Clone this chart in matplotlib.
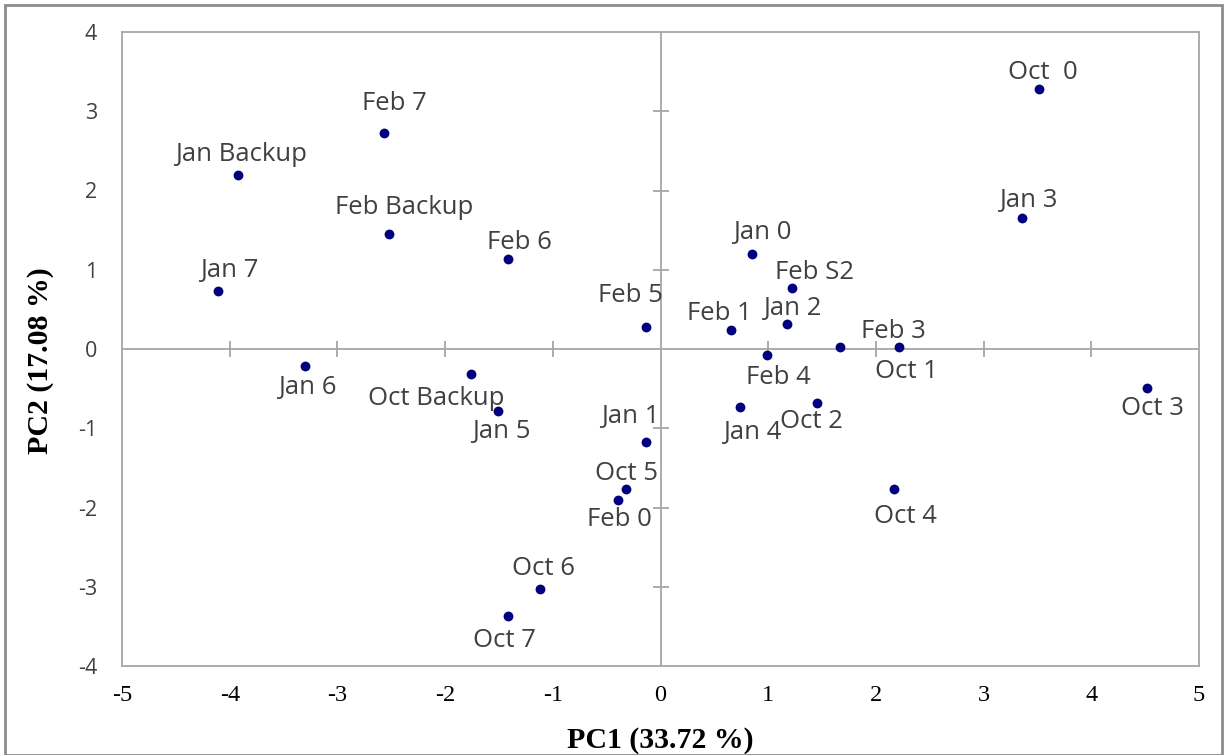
import numpy as np
import matplotlib
matplotlib.use("Agg")
import matplotlib.pyplot as plt
from matplotlib.patches import Rectangle

# PCA scores
names = ['Oct  0', 'Jan 3', 'Feb 7', 'Jan Backup', 'Feb Backup', 'Feb 6', 'Jan 7',
         'Jan 0', 'Feb S2', 'Feb 5', 'Feb 1', 'Jan 2', 'Feb 3', 'Oct 1', 'Feb 4',
         'Jan 4', 'Oct 2', 'Jan 1', 'Oct 5', 'Feb 0', 'Oct 4', 'Jan 6',
         'Oct Backup', 'Jan 5', 'Oct 3', 'Oct 6', 'Oct 7']
pc1 = [3.51, 3.36, -2.57, -3.92, -2.52, -1.42, -4.11,
       0.85, 1.22, -0.13, 0.65, 1.17, 1.67, 2.21, 0.99,
       0.74, 1.45, -0.13, -0.32, -0.39, 2.17, -3.30,
       -1.76, -1.51, 4.52, -1.12, -1.42]
pc2 = [3.28, 1.65, 2.72, 2.19, 1.45, 1.13, 0.73,
       1.20, 0.77, 0.28, 0.24, 0.32, 0.03, 0.03, -0.08,
       -0.73, -0.68, -1.17, -1.77, -1.90, -1.77, -0.22,
       -0.31, -0.78, -0.49, -3.03, -3.37]

xticks = [-5, -4, -3, -2, -1, 0, 1, 2, 3, 4, 5]
yticks = [-4, -3, -2, -1, 0, 1, 2, 3, 4]

# label offsets from each point, in pixels (x right, y up)
label_offsets = {
    'Oct  0': (4, 17), 'Jan 3': (6, 18), 'Feb 7': (11, 30), 'Jan Backup': (3, 21),
    'Feb Backup': (15, 27), 'Feb 6': (12, 17), 'Jan 7': (11, 21), 'Jan 0': (10, 21),
    'Feb S2': (23, 15), 'Feb 5': (-16, 31), 'Feb 1': (-11, 16), 'Jan 2': (6, 15),
    'Feb 3': (53, 15), 'Oct 1': (8, -25), 'Feb 4': (11, -22), 'Jan 4': (12, -26),
    'Oct 2': (-5, -19), 'Jan 1': (-16, 25), 'Oct 5': (0, 16), 'Feb 0': (1, -20),
    'Oct 4': (11, -27), 'Jan 6': (2, -21), 'Oct Backup': (-35, -25), 'Jan 5': (3, -21),
    'Oct 3': (5, -21), 'Oct 6': (4, 21), 'Oct 7': (-3, -24),
}

grey = '#a6a6a6'
text_col = '#404040'

fig = plt.figure(figsize=(12.28, 7.55), dpi=100)
ax = fig.add_axes([122 / 1228, 1 - 666 / 755, (1199 - 122) / 1228, (666 - 32) / 755])

# axes crossing at the origin, with cross ticks
ax.axhline(0, color=grey, lw=1.3, zorder=1)
ax.axvline(0, color=grey, lw=1.3, zorder=1)
ax.plot([t for t in xticks if t not in (-5, 0, 5)], [0] * 8, '|', ms=11, mew=1.3,
        color=grey, zorder=1)
ax.plot([0] * 6, [t for t in yticks if t not in (-4, 0, 4)], '_', ms=11, mew=1.3,
        color=grey, zorder=1)

ax.scatter(pc1, pc2, s=50, color='#00007f', zorder=3, linewidths=0)

for n, x, y in zip(names, pc1, pc2):
    dx, dy = label_offsets[n]
    ax.annotate(n, (x, y), xytext=(dx, dy), textcoords='offset pixels',
                ha='center', va='center', fontsize=18.5, color=text_col,
                family='Open Sans')

ax.set_xlim(-5, 5)
ax.set_ylim(-4, 4)
ax.set_xticks(xticks)
ax.set_yticks(yticks)
ax.set_xticklabels([str(t) for t in xticks], family='Liberation Serif', fontsize=17.5)
ax.set_yticklabels([str(t) for t in yticks], family='Open Sans', fontsize=15.5,
                   color=text_col)
ax.tick_params(axis='x', length=0, pad=14)
ax.tick_params(axis='y', length=0, pad=18)
for sp in ax.spines.values():
    sp.set_color(grey)
    sp.set_linewidth(1.3)

ax.set_xlabel('PC1 (33.72 %)', family='Liberation Serif', fontweight='bold',
              fontsize=21.5, va='center')
ax.set_ylabel('PC2 (17.08 %)', family='Liberation Serif', fontweight='bold',
              fontsize=21.5, va='center')
ax.xaxis.set_label_coords(0.4995, -0.118)
ax.yaxis.set_label_coords(-0.076, 0.481)

# outer chart border
fig.patches.append(Rectangle((5 / 1228, 0), 1217 / 1228, 750 / 755,
                             transform=fig.transFigure, fill=False,
                             edgecolor='#8c8c8c', lw=2))

fig.savefig('out.png', dpi=100)
